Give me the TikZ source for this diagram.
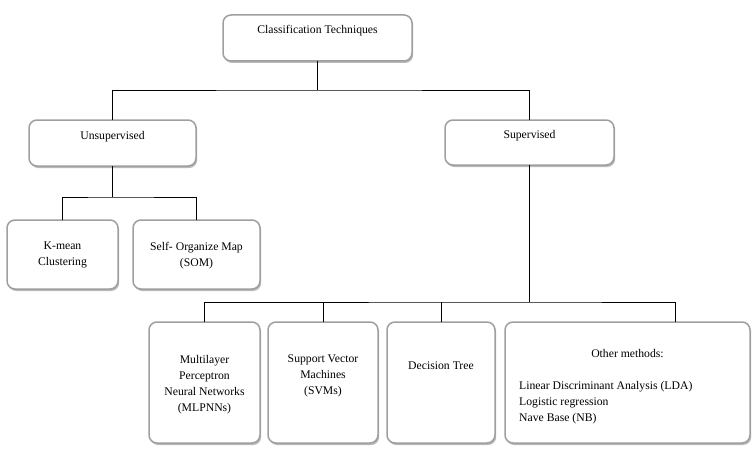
\documentclass[tikz,border=0pt]{standalone}
\usepackage{fontspec}
\setmainfont{Liberation Serif}
\usepackage{tikz}
\usetikzlibrary{positioning}
\usetikzlibrary{shadows}
\tikzstyle{box} = [draw=gray!75,line width=1.5pt,rounded corners=8pt,fill=white,inner sep=0pt,outer sep=0pt,drop shadow={shadow xshift=1.2pt,shadow yshift=-2pt,opacity=0.55}]
\tikzstyle{txt} = [font=\fontsize{11.7}{16}\selectfont,align=center,inner sep=0pt]
\tikzstyle{line} = [line width=0.8pt,black]

\begin{document}
\begin{tikzpicture}[x=1pt,y=-1pt]
	\useasboundingbox (0,0) rectangle (753,452);

	%Nodes
	\node [box,minimum width=189pt,minimum height=46pt] (top) at (317.5,38) {};
	\node [txt,below=10pt of top.north] (toptxt) {Classification Techniques};

	\node [box,minimum width=167pt,minimum height=46pt] (unsup) at (112.5,143) {};
	\node [txt,below=11pt of unsup.north] (unsuptxt) {Unsupervised};
	\node [box,minimum width=169pt,minimum height=45pt] (sup) at (529.5,142.5) {};
	\node [txt,below=10pt of sup.north] (suptxt) {Supervised};

	\node [box,minimum width=111pt,minimum height=69pt] (kmean) at (62.5,254.5) {};
	\node [txt,below=22pt of kmean.north] (kmeantxt) {K-mean\\Clustering};
	\node [box,minimum width=127pt,minimum height=69pt,right=15pt of kmean] (som) {};
	\node [txt,below=22pt of som.north] (somtxt) {Self- Organize Map\\(SOM)};

	\node [box,minimum width=111pt,minimum height=121pt] (mlp) at (204.5,382.5) {};
	\node [txt,below=33pt of mlp.north] (mlptxt) {Multilayer\\Perceptron\\Neural Networks\\(MLPNNs)};
	\node [box,minimum width=110pt,minimum height=121pt,right=8pt of mlp] (svm) {};
	\node [txt,below=33pt of svm.north] (svmtxt) {Support Vector\\Machines\\(SVMs)};
	\node [box,minimum width=108pt,minimum height=121pt,right=9pt of svm] (dt) {};
	\node [txt,below=40pt of dt.north] (dttxt) {Decision Tree};
	\node [box,minimum width=245pt,minimum height=121pt,right=10pt of dt] (other) {};
	\node [txt,below=27pt of other.north] (othertxt) {Other methods:};
	\node [txt,align=left,anchor=north west] (otherlist) at (519,381) {Linear Discriminant Analysis (LDA)\\Logistic regression\\Nave Base (NB)};

	%Lines
	\coordinate (split1) at ([yshift=-29pt]top.south);
	\coordinate (split2) at ([yshift=-31pt]unsup.south);
	\coordinate (split3) at ([yshift=-137pt]sup.south);
	\draw[line] (top.south) -- (split1);
	\draw[line] (unsup.north) |- (split1) -| (sup.north);
	\draw[line] (unsup.south) -- (split2);
	\draw[line] (kmean.north) |- (split2) -| (som.north);
	\draw[line] (sup.south) -- (split3);
	\draw[line] (mlp.north) |- (split3) -| ([xshift=48pt]other.north);
	\draw[line] (svm.north) -- (svm.north |- split3);
	\draw[line] (dt.north) -- (dt.north |- split3);
\end{tikzpicture}
\end{document}
